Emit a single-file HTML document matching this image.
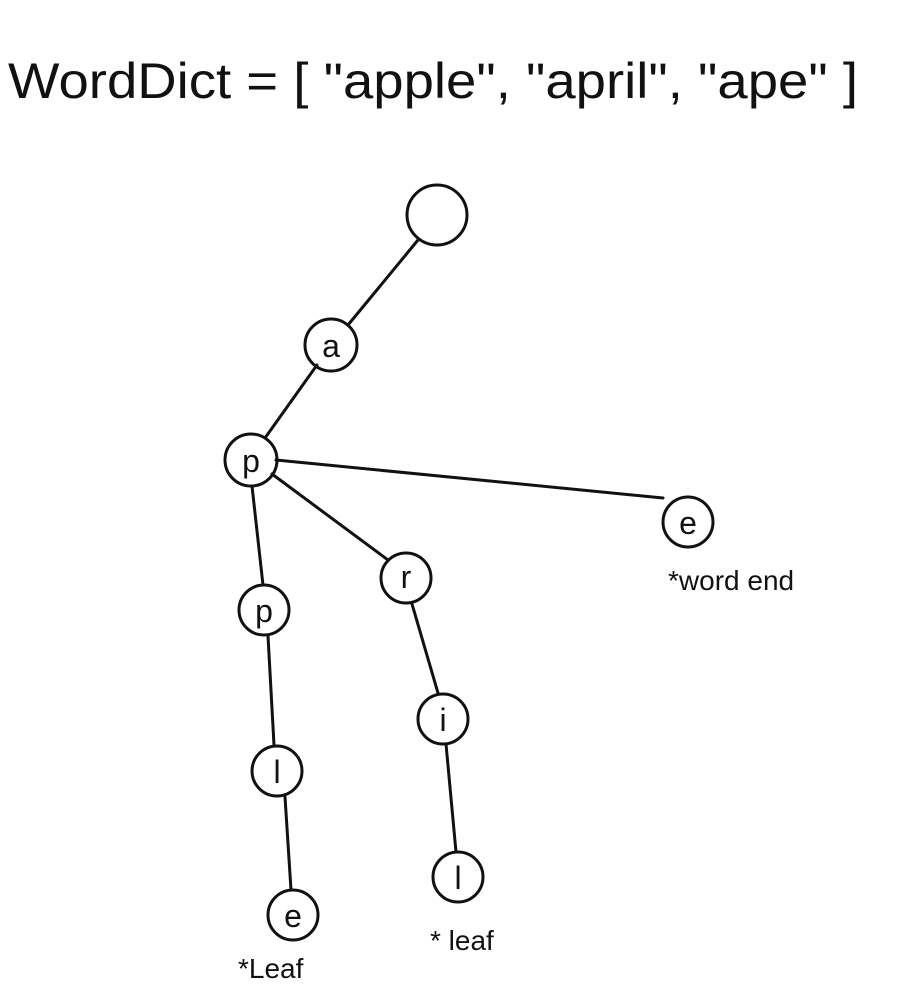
<!DOCTYPE html>
<html><head><meta charset="utf-8"><style>
html,body{margin:0;padding:0;background:#fff;}
svg{display:block}
text{font-family:"Liberation Sans",sans-serif;fill:#111}
</style></head><body>
<svg width="898" height="1000" viewBox="0 0 898 1000" xmlns="http://www.w3.org/2000/svg">
<text x="8" y="98" font-size="50" textLength="850" lengthAdjust="spacingAndGlyphs">WordDict = [ "apple", "april", "ape" ]</text>
<g stroke="#111" stroke-width="3" fill="none" stroke-linecap="round">
<line x1="418" y1="240" x2="348" y2="325"/>
<line x1="317" y1="365" x2="265" y2="438"/>
<line x1="276" y1="460" x2="663" y2="498"/>
<line x1="272" y1="474" x2="388" y2="560"/>
<line x1="252" y1="486" x2="263" y2="585"/>
<line x1="268" y1="636" x2="274" y2="745"/>
<line x1="285" y1="797" x2="291" y2="890"/>
<line x1="412" y1="604" x2="438" y2="693"/>
<line x1="446" y1="744" x2="456" y2="852"/>
<circle cx="437" cy="215" r="30"/>
<circle cx="331" cy="345" r="26"/>
<circle cx="251" cy="460" r="26"/>
<circle cx="688" cy="522" r="25"/>
<circle cx="406" cy="578" r="25"/>
<circle cx="264" cy="610" r="25"/>
<circle cx="277" cy="771" r="25"/>
<circle cx="443" cy="719" r="25"/>
<circle cx="458" cy="877" r="25"/>
<circle cx="293" cy="915" r="25"/>
</g>
<g font-size="32" text-anchor="middle">
<text x="331" y="357">a</text>
<text x="251" y="472">p</text>
<text x="688" y="534">e</text>
<text x="406" y="588">r</text>
<text x="264" y="622">p</text>
<text x="277" y="783">l</text>
<text x="443" y="731">i</text>
<text x="458" y="889">l</text>
<text x="293" y="927">e</text>
</g>
<text x="668" y="590" font-size="28">*word end</text>
<text x="430" y="950" font-size="28">* leaf</text>
<text x="238" y="978" font-size="28">*Leaf</text>
</svg>
</body></html>
